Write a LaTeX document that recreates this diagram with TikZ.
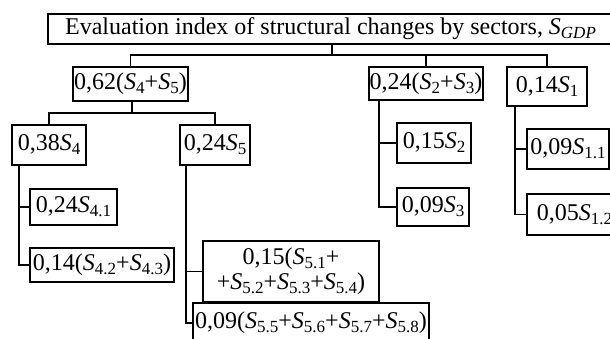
\documentclass[tikz,border=0pt]{standalone}
\usepackage{fontspec}
\setmainfont{Liberation Serif}
\newcommand\Sx[1]{\textit{S}\raisebox{-4pt}{\fontsize{17}{17}\selectfont #1}}
\tikzset{
  box/.style={draw, line width=1.8pt, inner sep=0pt, align=center, font=\fontsize{24}{25}\selectfont},
  conn/.style={line width=1.8pt}
}
\begin{document}
\begin{tikzpicture}[x=1pt,y=-1pt]
\useasboundingbox (0,0) rectangle (610,339);
\clip (0,0) rectangle (610,339);
% boxes
\node[box, minimum width=565pt, minimum height=30pt] (top) at (330.5,29) {Evaluation index of structural changes by sectors, \Sx{\textit{GDP}}};
\node[box, minimum width=115pt, minimum height=34pt] (b62) at (130.5,84) {0,62(\Sx{4}+\Sx{5})};
\node[box, minimum width=114pt, minimum height=33pt] (b24a) at (426,83.5) {0,24(\Sx{2}+\Sx{3})};
\node[box, minimum width=80pt, minimum height=39pt] (b14) at (547,86.5) {0,14\Sx{1}};
\node[box, minimum width=74pt, minimum height=40pt] (b38) at (49,145) {0,38\Sx{4}};
\node[box, minimum width=70pt, minimum height=40pt] (b245) at (215,145) {0,24\Sx{5}};
\node[box, minimum width=87pt, minimum height=36pt] (b241) at (73.5,207) {0,24\Sx{4.1}};
\node[box, minimum width=144pt, minimum height=34pt] (b14b) at (102,265) {0,14(\Sx{4.2}+\Sx{4.3})};
\node[box, minimum width=176pt, minimum height=61pt] (b15) at (291,271.5) {0,15(\Sx{5.1}+\\+\Sx{5.2}+\Sx{5.3}+\Sx{5.4})};
\node[box, minimum width=236pt, minimum height=40pt] (b09) at (311,323) {0,09(\Sx{5.5}+\Sx{5.6}+\Sx{5.7}+\Sx{5.8})};
\node[box, minimum width=74pt, minimum height=40pt] (b152) at (434,143) {0,15\Sx{2}};
\node[box, minimum width=72pt, minimum height=38pt] (b093) at (433,207) {0,09\Sx{3}};
\node[box, minimum width=82pt, minimum height=40pt] (b091) at (568,149) {0,09\Sx{1.1}};
\node[box, minimum width=95pt, minimum height=41pt] (b05) at (574.5,214.5) {0,05\Sx{1.2}};
% connectors
\coordinate (bus1) at (332,55);
\coordinate (bus2) at (132,113);
\draw[conn] (top.south -| bus1) -- (bus1);
\draw[conn] (b62.north) |- (bus1) -| (b14.north);
\draw[conn] (b24a.north) -- (b24a.north |- bus1);
\draw[conn] (b62.south -| bus2) -- (bus2);
\draw[conn] (b38.north) |- (bus2) -| (b245.north);
\draw[conn] ([xshift=8pt]b38.south west) |- (b14b.west);
\draw[conn] (b241.west) -| ([xshift=8pt]b38.south west);
\draw[conn] ([xshift=7pt]b245.south west) |- (b09.west);
\draw[conn] (b15.west) -| ([xshift=7pt]b245.south west);
\draw[conn] ([xshift=11pt]b24a.south west) |- (b093.west);
\draw[conn] (b152.west) -| ([xshift=11pt]b24a.south west);
\draw[conn] ([xshift=9pt]b14.south west) |- (b05.west);
\draw[conn] (b091.west) -| ([xshift=9pt]b14.south west);
\end{tikzpicture}
\end{document}
